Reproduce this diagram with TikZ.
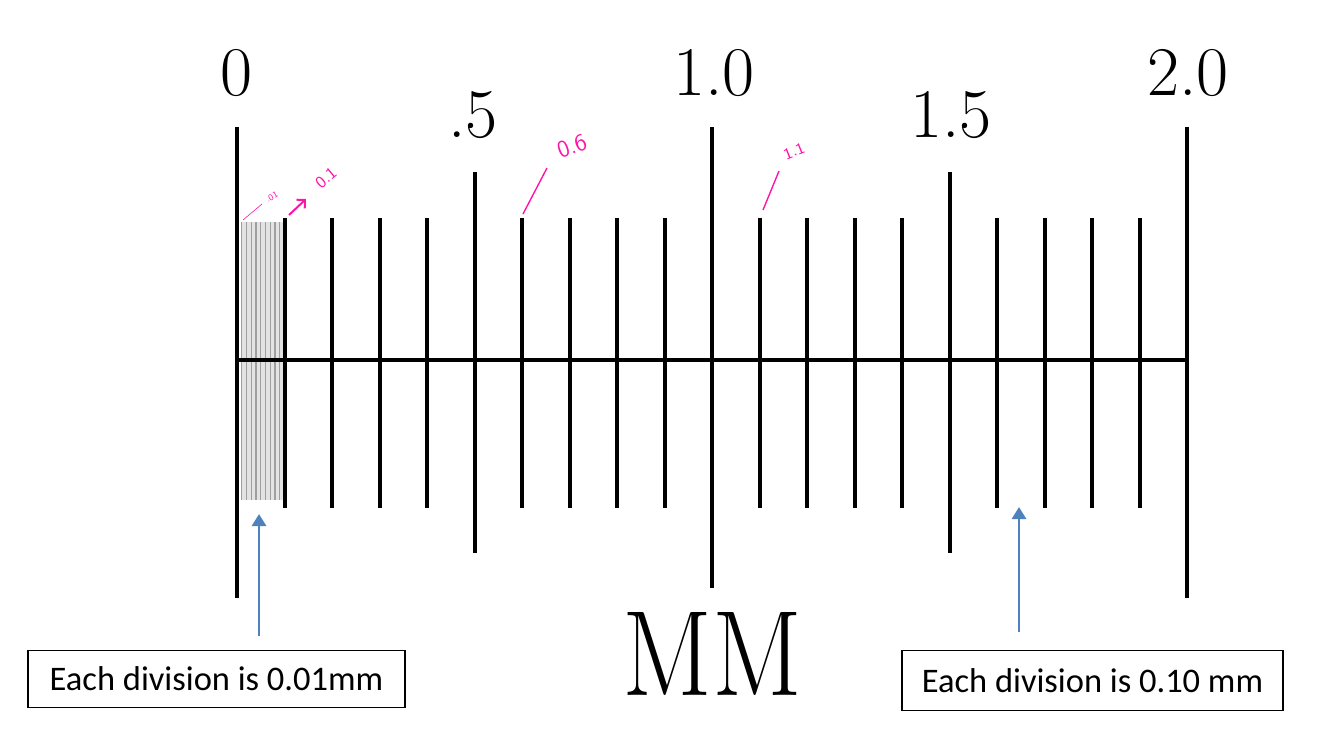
\documentclass[tikz,border=0pt]{standalone}
\usepackage{fontspec}
\newfontfamily\boxfont{Carlito}
\usetikzlibrary{arrows.meta}

\definecolor{inkpink}{RGB}{255,20,170}
\definecolor{notearrow}{RGB}{79,129,189}

\tikzset{
  tick/.style={line width=2bp},
  fine/.style={gray!75, line width=0.7bp},
  scalelbl/.style={font=\fontsize{35}{40}\selectfont, anchor=base, inner sep=0pt},
  notebox/.style={draw, line width=0.8bp, font=\boxfont\fontsize{17.3}{20}\selectfont, inner sep=0pt},
  ink/.style={inkpink, line width=0.7bp},
  inktext/.style={inkpink, font=\sffamily, inner sep=0pt}
}

\begin{document}
\begin{tikzpicture}[x=0.5bp, y=-0.5bp, >={Triangle[width=7bp,length=6bp]}]

	\useasboundingbox (0,0) rectangle (1331,739);

	\def\xo{237}  % position of 0
	\def\du{47.5} % one tenth of a mm

	% fine divisions
	\fill[gray!22] (241,222) rectangle (284,500);
	\foreach \i in {1,...,9}
		\draw[fine] ({\xo+\i*\du/10},222) -- ({\xo+\i*\du/10},500);

	% tenth ticks
	\foreach \i in {1,2,3,4,6,7,8,9,11,12,13,14,16,17,18,19}
		\draw[tick] ({\xo+\i*\du},218) -- ({\xo+\i*\du},508);

	% half ticks
	\draw[tick] ({\xo+5*\du},172) -- ({\xo+5*\du},553);
	\draw[tick] ({\xo+15*\du},172) -- ({\xo+15*\du},553);

	% whole ticks
	\draw[tick] (\xo,127) -- (\xo,598);
	\draw[tick] ({\xo+10*\du},127) -- ({\xo+10*\du},588);
	\draw[tick] ({\xo+20*\du},127) -- ({\xo+20*\du},598);

	% base line
	\draw[tick] (\xo,360) -- ({\xo+20*\du},360);

	% scale labels
	\node[scalelbl] (lblzero) at (237,95) {0};
	\node[scalelbl] (lblhalf) at (473,137) {.5};
	\node[scalelbl] (lblone) at (714,95) {1.0};
	\node[scalelbl] (lblonehalf) at (951,137) {1.5};
	\node[scalelbl] (lbltwo) at (1188,95) {2.0};

	\node[anchor=base, inner sep=0pt, xscale=0.87,
		font=\fontsize{61}{64}\selectfont] (unit) at (712,695) {MM};

	% note boxes
	\node[notebox, minimum width=188.5bp, minimum height=28.5bp]
		(finebox) at (216.5,679) {Each division is 0.01mm};
	\node[notebox, minimum width=190.5bp, minimum height=30bp]
		(tenthbox) at (1092.5,680.5) {Each division is 0.10 mm};

	% arrows to the divisions
	\coordinate (finefoot) at (259,636);
	\coordinate (finetip) at (259,514);
	\coordinate (tenthfoot) at (1019,632);
	\coordinate (tenthtip) at (1019,507);
	\draw[->, notearrow, line width=1.4bp] (finefoot) -- (finetip);
	\draw[->, notearrow, line width=1.4bp] (tenthfoot) -- (tenthtip);

	% pink notes
	\draw[ink, line width=0.3bp] (243,220) -- (262,204);
	\node[inktext, rotate=30, font=\sffamily\fontsize{4.5}{5}\selectfont]
		(notehund) at (272,197) {.01};
	\draw[ink, ->, line width=1bp, >={Straight Barb[length=3bp]}] (289,215) -- (306,199);
	\node[inktext, rotate=40, font=\sffamily\fontsize{8.5}{10}\selectfont]
		(notetenth) at (326,178) {0.1};
	\draw[ink] (523,214) -- (547,168);
	\node[inktext, rotate=20, font=\sffamily\fontsize{12}{14}\selectfont]
		(notesix) at (572,146) {0.6};
	\draw[ink] (763,210) -- (779,171);
	\node[inktext, rotate=22, font=\sffamily\fontsize{8}{10}\selectfont]
		(noteeleven) at (794,151) {1.1};

\end{tikzpicture}
\end{document}
